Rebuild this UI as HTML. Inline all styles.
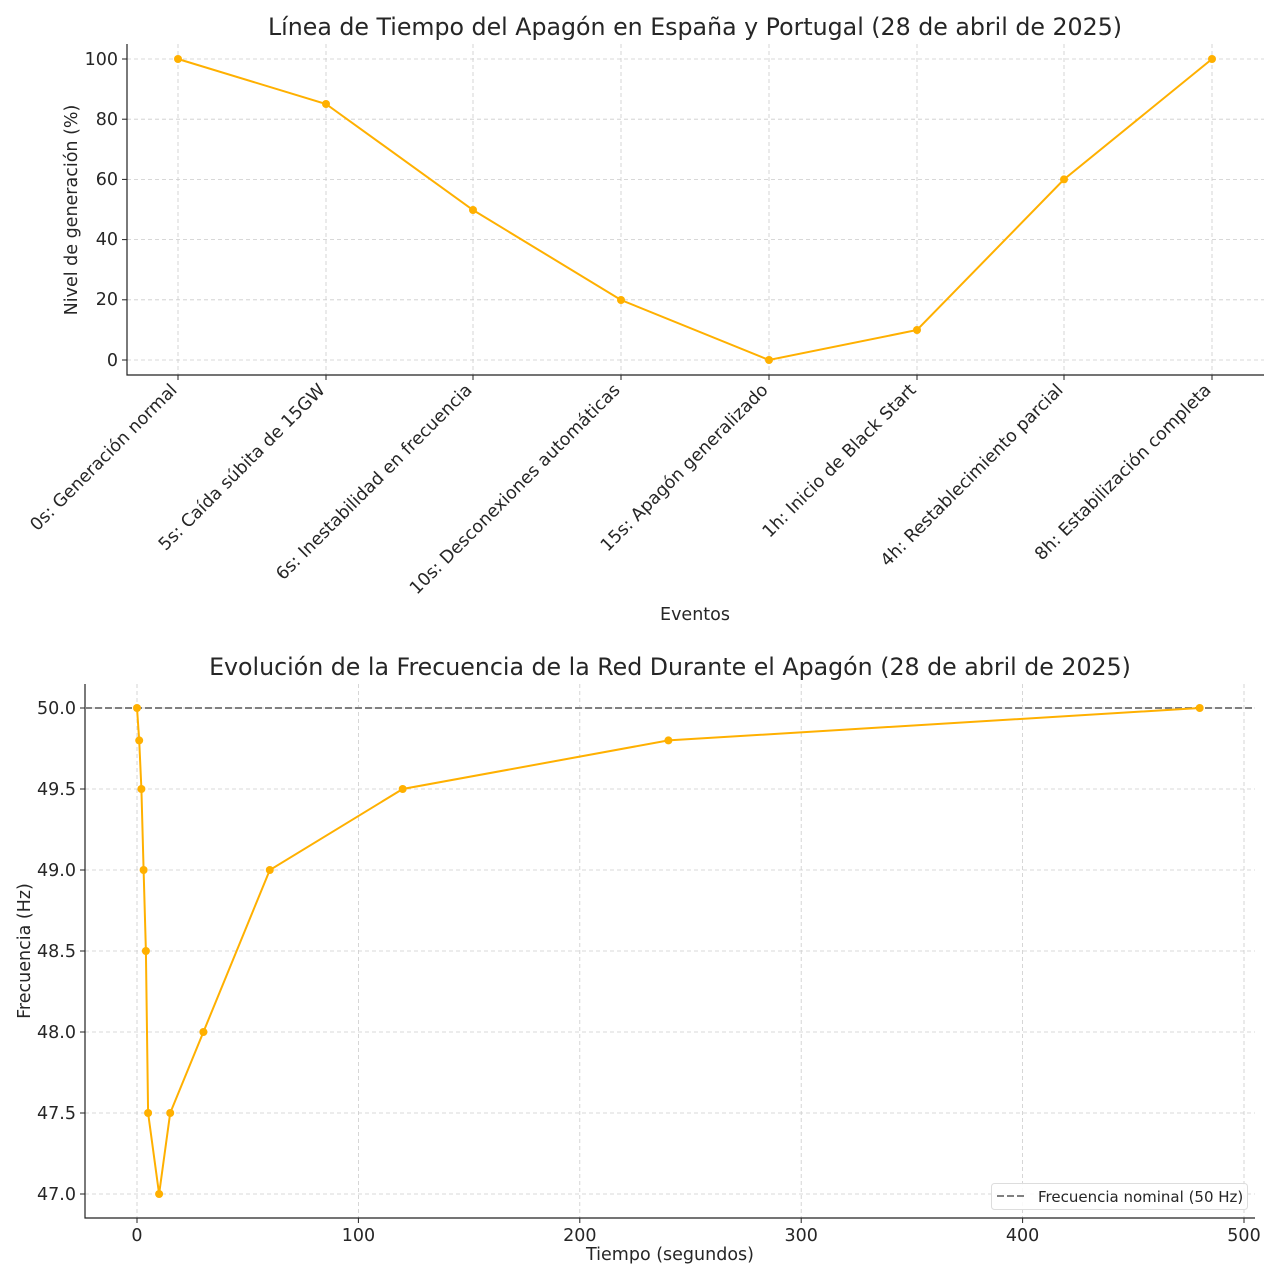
<!DOCTYPE html>
<html><head><meta charset="utf-8"><style>body{margin:0;background:#fff}svg{display:block}text{font-family:"DejaVu Sans","Liberation Sans",sans-serif;fill:#262626}</style></head><body>
<svg width="1280" height="1280" xmlns="http://www.w3.org/2000/svg">
<rect width="1280" height="1280" fill="#fff"/>
<!-- TOP -->
<text x="695" y="35" font-size="23.7" text-anchor="middle" fill="#333">Línea de Tiempo del Apagón en España y Portugal (28 de abril de 2025)</text>
<g stroke="#ccc" stroke-dasharray="4,3" stroke-width="0.8">
<line x1="127" x2="1264" y1="59" y2="59"/><line x1="127" x2="1264" y1="119.2" y2="119.2"/><line x1="127" x2="1264" y1="179.4" y2="179.4"/><line x1="127" x2="1264" y1="239.6" y2="239.6"/><line x1="127" x2="1264" y1="299.8" y2="299.8"/><line x1="127" x2="1264" y1="360" y2="360"/>
<line x1="178" x2="178" y1="44" y2="375"/><line x1="326" x2="326" y1="44" y2="375"/><line x1="473" x2="473" y1="44" y2="375"/><line x1="621" x2="621" y1="44" y2="375"/><line x1="769" x2="769" y1="44" y2="375"/><line x1="917" x2="917" y1="44" y2="375"/><line x1="1064" x2="1064" y1="44" y2="375"/><line x1="1212" x2="1212" y1="44" y2="375"/>
</g>
<path d="M127 44V375H1264" fill="none" stroke="#222" stroke-width="1.2"/>
<g stroke="#222"><line x1="122" x2="127" y1="59" y2="59"/><line x1="122" x2="127" y1="119.2" y2="119.2"/><line x1="122" x2="127" y1="179.4" y2="179.4"/><line x1="122" x2="127" y1="239.6" y2="239.6"/><line x1="122" x2="127" y1="299.8" y2="299.8"/><line x1="122" x2="127" y1="360" y2="360"/>
<line x1="178" x2="178" y1="375" y2="380"/><line x1="326" x2="326" y1="375" y2="380"/><line x1="473" x2="473" y1="375" y2="380"/><line x1="621" x2="621" y1="375" y2="380"/><line x1="769" x2="769" y1="375" y2="380"/><line x1="917" x2="917" y1="375" y2="380"/><line x1="1064" x2="1064" y1="375" y2="380"/><line x1="1212" x2="1212" y1="375" y2="380"/></g>
<g font-size="17.5" text-anchor="end"><text x="118" y="65">100</text><text x="118" y="125">80</text><text x="118" y="185">60</text><text x="118" y="245">40</text><text x="118" y="305">20</text><text x="118" y="366">0</text></g>
<text transform="translate(77,210) rotate(-90)" font-size="17.5" text-anchor="middle">Nivel de generación (%)</text>
<g font-size="17.5" text-anchor="end">
<text transform="translate(178,391) rotate(-45)">0s: Generación normal</text>
<text transform="translate(326,391) rotate(-45)">5s: Caída súbita de 15GW</text>
<text transform="translate(473,391) rotate(-45)">6s: Inestabilidad en frecuencia</text>
<text transform="translate(621,391) rotate(-45)">10s: Desconexiones automáticas</text>
<text transform="translate(769,391) rotate(-45)">15s: Apagón generalizado</text>
<text transform="translate(917,391) rotate(-45)">1h: Inicio de Black Start</text>
<text transform="translate(1064,391) rotate(-45)">4h: Restablecimiento parcial</text>
<text transform="translate(1212,391) rotate(-45)">8h: Estabilización completa</text>
</g>
<text x="695" y="620" font-size="17.5" text-anchor="middle">Eventos</text>
<polyline points="178,59 326,104 473,210 621,300 769,360 917,330 1064,179.4 1212,59" fill="none" stroke="#ffb000" stroke-width="2"/>
<g fill="#ffb000"><circle cx="178" cy="59" r="4"/><circle cx="326" cy="104" r="4"/><circle cx="473" cy="210" r="4"/><circle cx="621" cy="300" r="4"/><circle cx="769" cy="360" r="4"/><circle cx="917" cy="330" r="4"/><circle cx="1064" cy="179.4" r="4"/><circle cx="1212" cy="59" r="4"/></g>
<!-- BOTTOM -->
<text x="670" y="675" font-size="23.7" text-anchor="middle" fill="#333">Evolución de la Frecuencia de la Red Durante el Apagón (28 de abril de 2025)</text>
<g stroke="#ccc" stroke-dasharray="4,3" stroke-width="0.8">
<line x1="85" x2="1255" y1="708" y2="708"/><line x1="85" x2="1255" y1="789" y2="789"/><line x1="85" x2="1255" y1="870" y2="870"/><line x1="85" x2="1255" y1="951" y2="951"/><line x1="85" x2="1255" y1="1032" y2="1032"/><line x1="85" x2="1255" y1="1113" y2="1113"/><line x1="85" x2="1255" y1="1194" y2="1194"/>
<line x1="137" x2="137" y1="684" y2="1218"/><line x1="358.4" x2="358.4" y1="684" y2="1218"/><line x1="579.8" x2="579.8" y1="684" y2="1218"/><line x1="801.2" x2="801.2" y1="684" y2="1218"/><line x1="1022.6" x2="1022.6" y1="684" y2="1218"/><line x1="1244" x2="1244" y1="684" y2="1218"/>
</g>
<path d="M85 684V1218H1255" fill="none" stroke="#222" stroke-width="1.2"/>
<g stroke="#222"><line x1="80" x2="85" y1="708" y2="708"/><line x1="80" x2="85" y1="789" y2="789"/><line x1="80" x2="85" y1="870" y2="870"/><line x1="80" x2="85" y1="951" y2="951"/><line x1="80" x2="85" y1="1032" y2="1032"/><line x1="80" x2="85" y1="1113" y2="1113"/><line x1="80" x2="85" y1="1194" y2="1194"/>
<line x1="137" x2="137" y1="1218" y2="1223"/><line x1="358.4" x2="358.4" y1="1218" y2="1223"/><line x1="579.8" x2="579.8" y1="1218" y2="1223"/><line x1="801.2" x2="801.2" y1="1218" y2="1223"/><line x1="1022.6" x2="1022.6" y1="1218" y2="1223"/><line x1="1244" x2="1244" y1="1218" y2="1223"/></g>
<g font-size="17.5" text-anchor="end"><text x="76" y="714">50.0</text><text x="76" y="795">49.5</text><text x="76" y="876">49.0</text><text x="76" y="957">48.5</text><text x="76" y="1038">48.0</text><text x="76" y="1119">47.5</text><text x="76" y="1200">47.0</text></g>
<g font-size="17.5" text-anchor="middle"><text x="137" y="1241">0</text><text x="358.4" y="1241">100</text><text x="579.8" y="1241">200</text><text x="801.2" y="1241">300</text><text x="1022.6" y="1241">400</text><text x="1244" y="1241">500</text></g>
<text x="670" y="1260" font-size="17.5" text-anchor="middle">Tiempo (segundos)</text>
<text transform="translate(30,951) rotate(-90)" font-size="17.5" text-anchor="middle">Frecuencia (Hz)</text>
<line x1="85" x2="1255" y1="708" y2="708" stroke="#808080" stroke-width="2" stroke-dasharray="7,3"/>
<polyline points="137,708 139.2,740.4 141.4,789 143.6,870 145.9,951 148.1,1113 159.1,1194 170.2,1113 203.4,1032 269.8,870 402.7,789 668.4,740.4 1199.7,708" fill="none" stroke="#ffb000" stroke-width="2"/>
<g fill="#ffb000"><circle cx="137" cy="708" r="4"/><circle cx="139.2" cy="740.4" r="4"/><circle cx="141.4" cy="789" r="4"/><circle cx="143.6" cy="870" r="4"/><circle cx="145.9" cy="951" r="4"/><circle cx="148.1" cy="1113" r="4"/><circle cx="159.1" cy="1194" r="4"/><circle cx="170.2" cy="1113" r="4"/><circle cx="203.4" cy="1032" r="4"/><circle cx="269.8" cy="870" r="4"/><circle cx="402.7" cy="789" r="4"/><circle cx="668.4" cy="740.4" r="4"/><circle cx="1199.7" cy="708" r="4"/></g>
<rect x="991.5" y="1183.5" width="256" height="26" rx="3" fill="#fff" fill-opacity="0.85" stroke="#ddd"/>
<line x1="997" x2="1027" y1="1196" y2="1196" stroke="#808080" stroke-width="2" stroke-dasharray="7,3"/>
<text x="1038" y="1202" font-size="15" fill="#333">Frecuencia nominal (50 Hz)</text>
</svg>
</body></html>
